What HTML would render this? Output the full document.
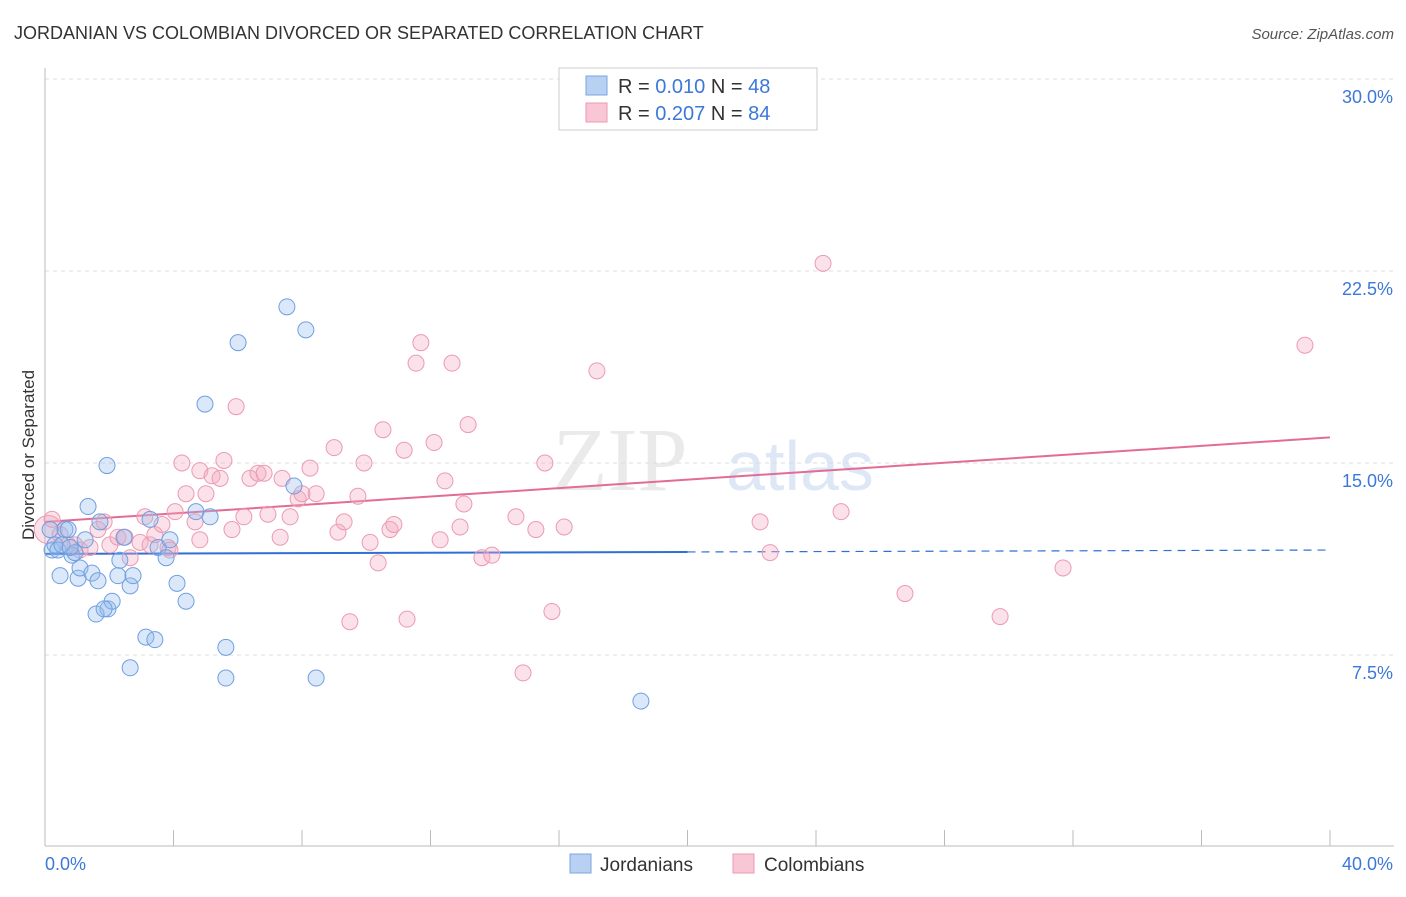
<!DOCTYPE html>
<html><head><meta charset="utf-8"><style>
html,body{margin:0;padding:0;background:#fff;font-family:"Liberation Sans",sans-serif}
#wrap{position:relative;width:1406px;height:892px}
</style></head><body>
<div id="wrap">
<svg id="svg" width="1406" height="892" xmlns="http://www.w3.org/2000/svg">
<text x="14" y="39" font-size="18" fill="#333">JORDANIAN VS COLOMBIAN DIVORCED OR SEPARATED CORRELATION CHART</text>
<text x="1394" y="39" font-size="15" fill="#555" font-style="italic" text-anchor="end">Source: ZipAtlas.com</text>
<text x="34" y="455" font-size="17" fill="#333" text-anchor="middle" transform="rotate(-90 34 455)">Divorced or Separated</text>
<text x="620" y="490" font-size="90" fill="#ddd" font-family="Liberation Serif,serif" text-anchor="middle" opacity="0.6">ZIP</text>
<text x="800" y="490" font-size="70" fill="#c8d8ef" text-anchor="middle" opacity="0.6">atlas</text>
<g id="grid"></g><g id="axes"></g><g id="trend"></g><g id="pts"></g>
<g>
<rect x="559" y="68" width="258" height="62" fill="#fff" stroke="#ccc"/>
<rect x="586" y="76" width="21" height="19" fill="#b8d1f3" stroke="#7aa5e3"/>
<rect x="586" y="103" width="21" height="19" fill="#f8c6d4" stroke="#ec9ab2"/>
<text x="618" y="93" font-size="20" fill="#333">R = <tspan fill="#3c78d8">0.010</tspan>   N = <tspan fill="#3c78d8">48</tspan></text>
<text x="618" y="120" font-size="20" fill="#333">R = <tspan fill="#3c78d8">0.207</tspan>   N = <tspan fill="#3c78d8">84</tspan></text>
</g>
<g>
<rect x="570" y="854" width="21" height="19" fill="#b8d1f3" stroke="#7aa5e3"/>
<text x="600" y="871" font-size="19" fill="#333">Jordanians</text>
<rect x="733" y="854" width="21" height="19" fill="#f8c6d4" stroke="#ec9ab2"/>
<text x="764" y="871" font-size="19" fill="#333">Colombians</text>
</g>
</svg>
</div>
<script>
const yTicks=[7.5,15,22.5,30];
const yTickLabels=["7.5%","15.0%","22.5%","30.0%"];
const xTickLabels=["0.0%","40.0%"];
const blueX=[0.22,0.31,0.47,0.62,0.72,0.84,0.93,1.03,1.09,1.25,1.34,1.46,1.59,1.65,1.71,1.93,1.96,2.09,1.84,2.27,2.33,2.46,2.65,2.65,2.74,3.14,3.27,3.42,3.52,3.77,3.89,4.11,4.39,4.70,4.98,5.14,5.63,5.63,6.01,7.53,7.75,8.12,8.44,18.55,0.16,0.40,0.53,0.78];
const blueY=[11.6,11.8,10.6,12.4,12.4,11.4,11.5,10.5,10.9,12.0,13.3,10.7,9.1,10.4,12.7,14.9,9.3,9.6,9.3,10.6,11.2,12.1,7.0,10.2,10.6,8.2,12.8,8.1,11.7,11.3,12.0,10.3,9.6,13.1,17.3,12.9,7.8,6.6,19.7,21.1,14.1,20.2,6.6,5.7,12.4,11.6,11.8,11.7];
const pinkX=[0.1,0.22,0.47,0.72,0.93,1.09,1.40,1.65,1.84,2.02,2.27,2.49,2.65,2.96,3.11,3.27,3.42,3.64,3.83,4.05,4.26,4.39,4.67,4.82,5.01,5.20,5.45,5.57,5.82,5.95,6.19,6.38,6.63,6.82,6.94,7.32,7.38,7.63,7.88,8.00,8.25,8.44,9.00,9.12,9.31,9.49,9.74,9.93,10.12,10.37,10.52,10.74,10.86,11.18,11.27,11.55,11.70,12.11,12.30,12.45,12.67,12.92,13.04,13.17,13.60,13.91,14.66,14.88,15.28,15.56,15.78,16.16,17.18,22.26,22.57,24.22,24.78,26.77,29.73,31.69,39.22,3.89,4.82];
const pinkY=[12.4,12.8,12.2,11.8,11.8,11.6,11.7,12.4,12.7,11.8,12.1,12.1,11.3,11.9,12.9,11.8,12.2,12.6,11.7,13.1,15.0,13.8,12.7,14.7,13.8,14.5,14.4,15.1,12.4,17.2,12.9,14.4,14.6,14.6,13.0,12.1,14.4,12.9,13.6,13.8,14.8,13.8,15.6,12.3,12.7,8.8,13.7,15.0,11.9,11.1,16.3,12.4,12.6,15.5,8.9,18.9,19.7,15.8,12.0,14.3,18.9,12.5,13.4,16.5,11.3,11.4,12.9,6.8,12.4,15.0,9.2,12.5,18.6,12.7,11.5,22.8,13.1,9.9,9.0,10.9,19.6,11.6,12.0];
const blueTrend=[11.45,11.6];
const pinkTrend=[12.7,16.0];
const NS="http://www.w3.org/2000/svg";
const sx=v=>45+v*32.125, sy=v=>847-v*25.6;
function mk(tag,attrs,parent){const e=document.createElementNS(NS,tag);for(const k in attrs)e.setAttribute(k,attrs[k]);document.getElementById(parent).appendChild(e);return e;}
yTicks.forEach((t,i)=>{
 const g=mk('line',{x1:45,x2:1394,y1:sy(t),y2:sy(t),stroke:'#ddd','stroke-dasharray':'4,4'},'grid');
 
 
 const l=mk('text',{x:1393,y:sy(t)+24,'font-size':18,fill:'#3c78d8','text-anchor':'end'},'axes');
 l.textContent=yTickLabels[i];
 
 
});
const ax=mk('line',{x1:45,x2:1394,y1:846,y2:846,stroke:'#bbb'},'axes');


const ay=mk('line',{x1:45,x2:45,y1:68,y2:846,stroke:'#bbb'},'axes');


for(let i=0;i<=10;i++){const t=mk('line',{x1:sx(i*4),x2:sx(i*4),y1:830,y2:846,stroke:'#bbb'},'axes');
 
 }
const xl0=mk('text',{x:45,y:870,'font-size':18,fill:'#3c78d8'},'axes');xl0.textContent=xTickLabels[0];


const xl1=mk('text',{x:1393,y:870,'font-size':18,fill:'#3c78d8','text-anchor':'end'},'axes');xl1.textContent=xTickLabels[1];


const b1=mk('line',{x1:sx(0),y1:sy(blueTrend[0]),x2:sx(20),y2:sy(blueTrend[0]+(blueTrend[1]-blueTrend[0])/2),stroke:'#2f6fd6','stroke-width':2},'trend');


const b2=mk('line',{x1:sx(20),y1:sy(blueTrend[0]+(blueTrend[1]-blueTrend[0])/2),x2:sx(40),y2:sy(blueTrend[1]),stroke:'#2f6fd6','stroke-width':1.2,'stroke-dasharray':'8,6'},'trend');


const p1=mk('line',{x1:sx(0),y1:sy(pinkTrend[0]),x2:sx(40),y2:sy(pinkTrend[1]),stroke:'#e46c94','stroke-width':2},'trend');


pinkX.forEach((x,i)=>{const c=mk('circle',{cx:sx(x),cy:sy(pinkY[i]),r:i===0?14:8,fill:'rgba(244,170,192,0.35)',stroke:'#ec9ab2','stroke-width':1},'pts');
 
 });
blueX.forEach((x,i)=>{const c=mk('circle',{cx:sx(x),cy:sy(blueY[i]),r:8,fill:'rgba(150,188,238,0.35)',stroke:'#6f9fe0','stroke-width':1},'pts');
 
 });
</script>
</body></html>
